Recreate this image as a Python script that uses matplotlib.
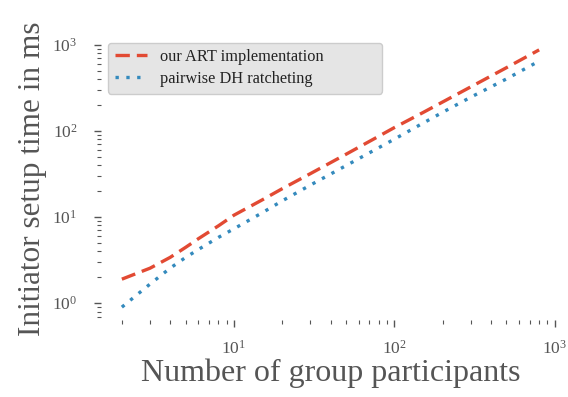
import matplotlib
matplotlib.use("Agg")
import matplotlib.pyplot as plt

participants = [2, 3, 4, 5, 6, 8, 10, 15, 20, 30, 50, 75, 100, 150, 200, 300, 500, 800]
art_ms = [1.9, 2.55, 3.4, 4.45, 5.6, 7.9, 10.5, 15.8, 21.3, 31.9, 53.5, 81, 109, 162, 216, 324, 540, 870]
dh_ms = [0.9, 1.67, 2.55, 3.4, 4.2, 5.8, 7.3, 11.2, 15.4, 23.5, 39.5, 59.7, 80, 122, 164, 246, 400, 645]
series_labels = ["our ART implementation", "pairwise DH ratcheting"]
xlabel = "Number of group participants"
ylabel = "Initiator setup time in ms"

plt.rcParams['font.family'] = ['Liberation Serif', 'DejaVu Serif']
plt.rcParams['mathtext.fontset'] = 'stix'

fig = plt.figure(figsize=(5.68, 3.97), dpi=100)
ax = fig.add_axes([101/568, 1 - 320/397, (560 - 101)/568, (320 - 37)/397])

ax.plot(participants, art_ms, color='#E24A33', lw=2.4, dashes=(4.3, 2.1),
        dash_capstyle='butt', label=series_labels[0])
ax.plot(participants, dh_ms, color='#348ABD', lw=2.4, dashes=(1, 2.25),
        dash_capstyle='butt', label=series_labels[1])

ax.set_xscale('log')
ax.set_yscale('log')
ax.margins(0.05)

for s in ax.spines.values():
    s.set_visible(False)
ax.set_facecolor('white')

ax.tick_params(which='major', length=5, width=1.0, color='#555555',
               labelcolor='#555555', labelsize=12.5, pad=9)
ax.tick_params(axis='y', which='major', pad=12)
ax.tick_params(which='minor', length=3, width=0.8, color='#555555')

ax.set_xlabel(xlabel, fontsize=23, color='#555555', labelpad=1)
ax.set_ylabel(ylabel, fontsize=22.5, color='#555555', labelpad=4)

leg = ax.legend(loc='upper left', fontsize=11.8, frameon=True, fancybox=True,
                facecolor='#E5E5E5', edgecolor='#CCCCCC', framealpha=1.0,
                handlelength=1.95, labelspacing=0.35, borderaxespad=0,
                mode='expand', bbox_to_anchor=(0.0153, 0.0, 0.597, 0.980))
for t in leg.get_texts():
    t.set_color('#222222')

fig.savefig("out.png", dpi=100)
